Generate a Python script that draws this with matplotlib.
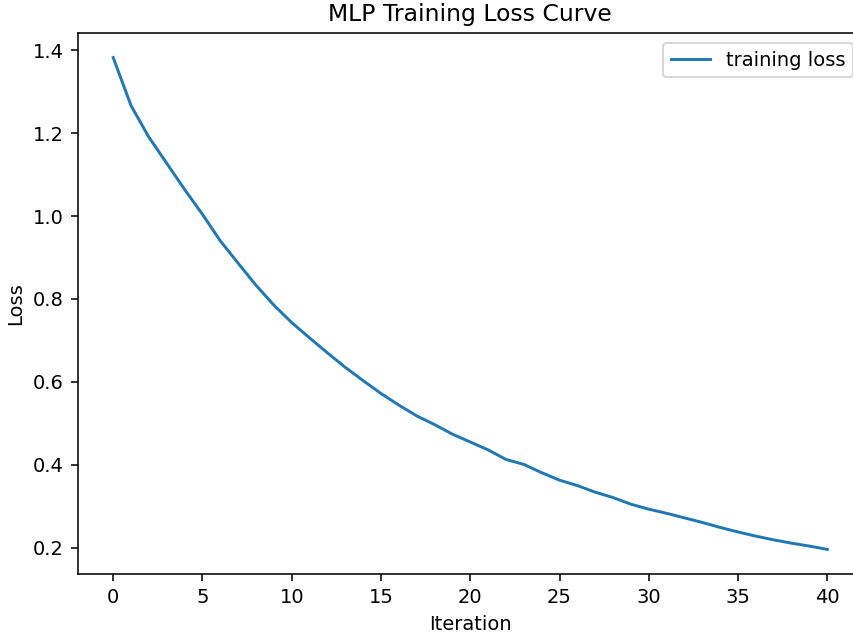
import matplotlib
matplotlib.use("Agg")
import matplotlib.pyplot as plt

# training loss per iteration
iterations = list(range(41))
loss = [1.382, 1.266, 1.190, 1.127, 1.064, 1.004, 0.940, 0.886, 0.833, 0.785,
        0.743, 0.706, 0.670, 0.635, 0.603, 0.572, 0.544, 0.518, 0.497, 0.474,
        0.455, 0.436, 0.413, 0.401, 0.381, 0.363, 0.350, 0.334, 0.321, 0.305,
        0.293, 0.283, 0.272, 0.261, 0.249, 0.238, 0.228, 0.219, 0.211, 0.204,
        0.196]

dpi = 140.8
fig = plt.figure(figsize=(853 / dpi, 635 / dpi), dpi=dpi)
# axes runs a little past the right edge, as in the cropped original
ax = fig.add_axes([77.5 / 853, 61 / 635, (863 - 77.5) / 853, 541 / 635])
ax.plot(iterations, loss, label='training loss')
ax.set_title('MLP Training Loss Curve')
ax.set_xlabel('Iteration')
ax.set_ylabel('Loss')
ax.legend(loc='upper right')

fig.savefig('out.png', dpi=dpi)
